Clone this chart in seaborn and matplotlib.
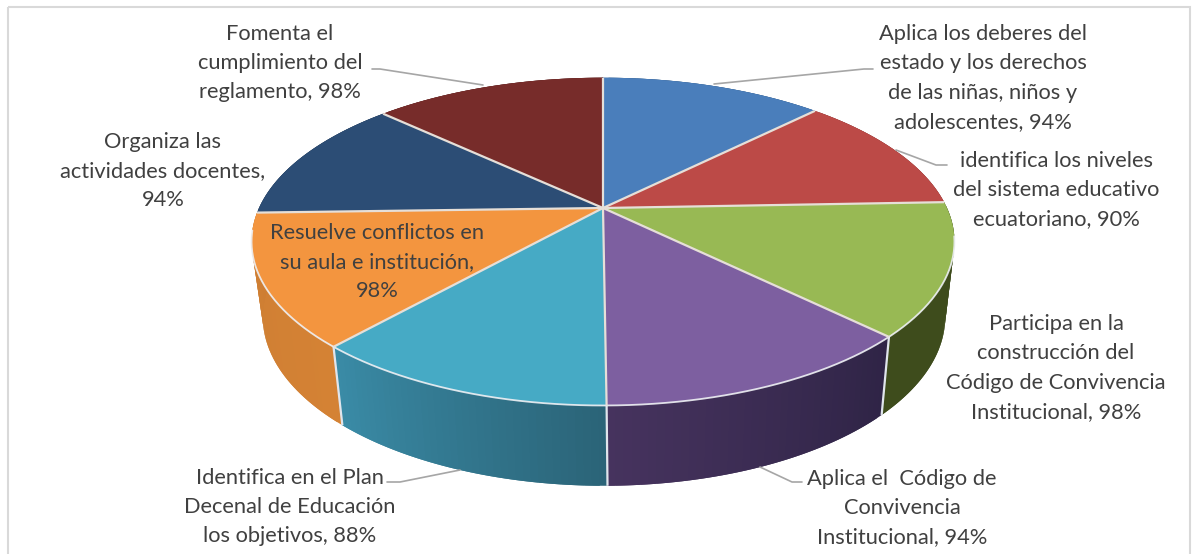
import numpy as np
import matplotlib
matplotlib.use("Agg")
import matplotlib.pyplot as plt
from matplotlib.patches import Rectangle
import seaborn as sns

# ---- data ----
labels = [
    "Aplica los deberes del\nestado y los derechos\nde las niñas, niños y\nadolescentes, 94%",
    "identifica los niveles\ndel sistema educativo\necuatoriano, 90%",
    "Participa en la\nconstrucción del\nCódigo de Convivencia\nInstitucional, 98%",
    "Aplica el  Código de\nConvivencia\nInstitucional, 94%",
    "Identifica en el Plan\nDecenal de Educación\nlos objetivos, 88%",
    "Resuelve conflictos en\nsu aula e institución,\n98%",
    "Organiza las\nactividades docentes,\n94%",
    "Fomenta el\ncumplimiento del\nreglamento, 98%",
]
values = [94, 90, 98, 94, 88, 98, 94, 98]
top_colors = ["#4A7EBB", "#BC4A47", "#98B954", "#7D5FA0", "#46AAC5", "#F3953F", "#2C4D75", "#772C2A"]
wall_left = ["#35608F", "#8E3836", "#3E4C1C", "#46335E", "#3A8BA6", "#CE7E33", "#223A58", "#5A2120"]
wall_right = ["#35608F", "#8E3836", "#3E4C1C", "#2F2446", "#2B6478", "#D48234", "#223A58", "#5A2120"]
label_pos = [(983, 78), (1056, 190), (1056, 368), (902, 508),
             (290, 507), (377, 262), (163, 171), (280, 63)]
leaders = [
    [(714, 84), (864, 69), (873, 69)],
    [(896, 150), (936, 165), (947, 165)],
    None,
    [(760, 467), (792, 482), (802, 482)],
    [(460, 470), (400, 482), (387, 482)],
    None,
    None,
    [(483, 85), (380, 69), (372, 69)],
]

sns.set_theme(style="white")
plt.rcParams["font.family"] = ["Lato", "DejaVu Sans"]

fig = plt.figure(figsize=(11.94, 5.54), dpi=100)
ax = fig.add_axes([0, 0, 1, 1])
ax.set_xlim(0, 1194)
ax.set_ylim(554, 0)
ax.axis("off")

ax.add_patch(Rectangle((8, 7), 1182, 560, fill=False, ec="#D9D9D9", lw=1.5, zorder=0))

# Perspective projection of a disc
K = 0.205
def project(theta, cx, cy, R, S, r=1.0):
    u, v = r * np.sin(theta), r * np.cos(theta)
    d = 1 + K * v
    return cx + R * u / d, cy - S * v / d

TOP = (603, 208, 344, 157)
BOT = (604, 282, 334, 162)

edges = np.deg2rad(np.concatenate([[0], np.cumsum(values)]) / np.sum(values) * 360)

# Side wall, slices drawn back to front
draw_order = [0, 7, 1, 6, 2, 5, 3, 4]
for i in draw_order:
    a0, a1 = edges[i], edges[i + 1]
    n = 40
    ramp = sns.blend_palette([wall_right[i], wall_left[i]], n)
    ts = np.linspace(a0, a1, n + 1)
    for j in range(n):
        t = np.linspace(ts[j], ts[min(j + 2, n)], 5)
        xt, yt = project(t, *TOP)
        xb, yb = project(t[::-1], *BOT)
        ax.fill(np.r_[xt, xb], np.r_[yt, yb], color=ramp[j], lw=0, zorder=2 + draw_order.index(i) * 0.01)
# Vertical seams of the wall
for i in [3, 4, 5]:
    xt, yt = project(edges[i], *TOP)
    xb, yb = project(edges[i], *BOT)
    ax.plot([xt, xb], [yt, yb], color="#E0E5EC", lw=1.6, zorder=3, solid_capstyle="butt")

# Top face
for i in range(len(values)):
    t = np.linspace(edges[i], edges[i + 1], 80)
    x, y = project(t, *TOP)
    ax.fill(np.r_[TOP[0], x], np.r_[TOP[1], y], color=top_colors[i], lw=0, zorder=4)
t = np.linspace(np.deg2rad(100), np.deg2rad(262), 200)
x, y = project(t, *TOP)
ax.plot(x, y, color="#EEF0F4", lw=1.3, alpha=0.9, zorder=5)
for i in range(len(values)):
    x, y = project(edges[i], *TOP)
    ax.plot([TOP[0], x], [TOP[1], y], color="#E6DFD8", lw=1.6, zorder=5, solid_capstyle="butt")

# Labels and leader lines
for lab, (x, y), lead in zip(labels, label_pos, leaders):
    ax.text(x, y, lab, ha="center", va="center", fontsize=15.75, color="#404040",
            linespacing=1.59, zorder=7)
    if lead is not None:
        ax.plot(*zip(*lead), color="#A6A6A6", lw=1.2, zorder=6)

fig.savefig("out.png", dpi=100)
